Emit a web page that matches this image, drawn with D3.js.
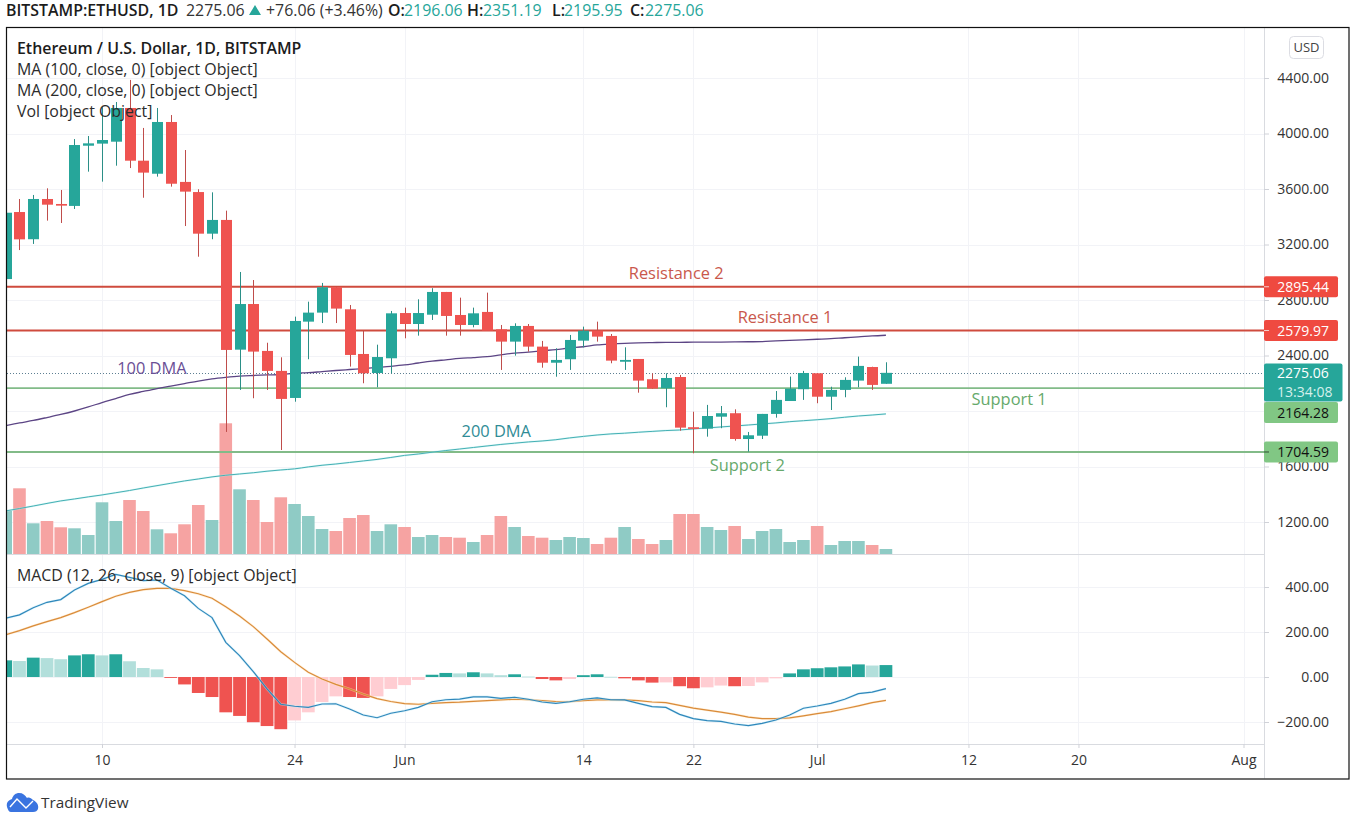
<!DOCTYPE html>
<html><head><meta charset="utf-8">
<script src="https://cdn.jsdelivr.net/npm/d3@7/dist/d3.min.js"></script>
<style>html,body{margin:0;padding:0;background:#fff}svg{display:block}text{font-family:"Open Sans",sans-serif}</style>
</head><body><svg id="c" width="1358" height="821"></svg>
<script>
const opens  = [2951,3434,3238,3528,3492,3478,3912,3927,3941,4184,3804,3710,4083,3651,3578,3278,3377,2442,2771,2433,2289,2094,2644,2709,2892,2733,2411,2274,2380,2706,2627,2694,2858,2692,2620,2714,2589,2500,2613,2464,2348,2373,2507,2579,2541,2355,2375,2229,2164,2245,1883,1873,1959,1984,1798,1822,1979,2072,2157,2272,2103,2152,2219,2317,2196.06];
const highs  = [3456,3528,3557,3605,3593,3960,3982,4191,4227,4386,4040,4184,4133,3881,3598,3576,3444,3002,2944,2492,2387,2680,2788,2923,2894,2764,2577,2478,2721,2745,2805,2885,2858,2817,2745,2853,2620,2632,2627,2505,2452,2548,2608,2644,2555,2459,2375,2272,2272,2260,1995,2044,2036,2012,1849,1979,2144,2248,2289,2272,2175,2243,2392,2319,2351.19];
const lows   = [2951,3160,3204,3372,3355,3456,3725,3653,3768,3751,3537,3689,3617,3333,3112,3238,1849,2152,2092,2152,1719,2067,2373,2634,2634,2320,2200,2171,2272,2524,2543,2656,2543,2543,2603,2577,2296,2399,2428,2312,2247,2296,2459,2500,2344,2296,2132,2159,2027,1858,1695,1815,1876,1786,1707,1798,1952,2072,2080,2056,2007,2099,2171,2152,2195.95];
const closes = [3429,3237,3528,3487,3480,3917,3929,3953,4184,3804,3718,4083,3638,3581,3278,3377,2440,2771,2428,2289,2087,2649,2709,2892,2738,2404,2272,2389,2704,2627,2706,2858,2685,2620,2704,2579,2500,2613,2464,2348,2368,2512,2579,2536,2363,2368,2219,2161,2238,1880,1871,1964,1984,1798,1825,1979,2080,2161,2274,2103,2152,2224,2325,2188,2275.06];
const volumes = [43.3,65.7,30.7,33,26.7,25.7,19,51.7,33,54,43,24.7,20.7,29.7,49,34,130.7,64.7,54,32,56.7,50,38,25,23,36,39,23,29.7,27,17,19,17,16.3,12,19,38,27,18,16.3,14,17,16,10,16.3,27,15,10,14,40,40,27,24,28,15,23,25,12,14,28,9,13,13,9,5];
const ma100 = [1894,1914,1932,1953,1975,2000,2029,2061,2090,2119,2141,2162,2180,2198,2216,2231,2242,2251,2256,2260,2263,2272,2276,2284,2292,2299,2306,2314,2322,2332,2346,2359,2369,2379,2385,2392,2405,2417,2424,2434,2443,2454,2463,2476,2483,2488,2491,2493,2495,2495,2496,2496,2497,2498,2499,2500,2505,2509,2513,2517,2521,2528,2534,2541,2546];
const ma200 = [1280,1297,1315,1334,1352,1366,1381,1395,1411,1427,1445,1462,1479,1496,1510,1525,1537,1546,1555,1566,1575,1583,1597,1609,1618,1629,1640,1651,1665,1680,1690,1703,1715,1726,1737,1748,1759,1768,1777,1784,1793,1806,1817,1827,1835,1840,1847,1853,1859,1863,1871,1878,1885,1892,1899,1907,1914,1923,1930,1937,1945,1955,1964,1971,1979];
const macdLine = [261,276,308,332,344,387,416,434,456,443,428,431,394,361,305,264,154,95,24,-53,-121,-130,-135,-120,-119,-142,-169,-181,-161,-150,-135,-110,-101,-98,-88,-88,-95,-90,-99,-111,-117,-110,-99,-93,-101,-102,-117,-132,-135,-166,-185,-194,-197,-209,-216,-206,-191,-169,-139,-129,-117,-99,-74,-67,-52];
const signalLine = [188,206,227,246,264,286,310,335,359,376,388,394,394,384,370,350,312,271,224,169,112,65,21,-9,-33,-53,-76,-96,-109,-118,-121,-117,-114,-112,-108,-105,-102,-99,-101,-105,-109,-110,-105,-102,-102,-102,-105,-111,-114,-126,-138,-147,-156,-166,-178,-185,-185,-182,-173,-163,-154,-141,-128,-114,-104];
const histogram = [74,71,86,84,79,96,101,96,101,70,40,34,-4,-33,-71,-89,-157,-173,-201,-218,-232,-193,-157,-111,-86,-89,-93,-86,-53,-36,-13,10,18,16,21,16,8,12,2,-9,-15,-9,8,12,1,-6,-15,-25,-24,-41,-50,-46,-38,-41,-40,-24,-6,16,34,39,43,47,56,51,53];
const priceTicks = [4400,4000,3600,3200,2800,2400,2000,1600,1200];
const macdTicks = [400,200,0,-200];
const timeTickDates = ["2021-05-10","2021-05-24","2021-06-01","2021-06-14","2021-06-22","2021-07-01","2021-07-12","2021-07-20","2021-08-01"];
const timeTickLabels = ["10","24","Jun","14","22","Jul","12","20","Aug"];
const levelPrices = [2895.44,2579.97,2164.28,1704.59];
const levelKinds = ["r","r","g","g"];
const annTexts = ["Resistance 2","Resistance 1","Support 1","Support 2","100 DMA","200 DMA"];
const annDays = [41.75,49.7,65.96,46.95,3.64,28.7];
const annPrices = [2995,2678,2087,1618,2317,1856];
const annKinds = ["r","r","g","g","p","t"];

const TEAL="#26a69a",RED="#ef5350",LINE_R="#cf4b3e",LINE_G="#82bb88",BOX_G="#81c784";
const firstDay=new Date(Date.UTC(2021,4,3));
const dates=closes.map((_,i)=>d3.utcDay.offset(firstDay,i));
const anchorDay=new Date(Date.UTC(2021,4,10));
const L=7,R=1264,T=28,VB=554,MB=744,B=778.5;
const x=d3.scaleUtc().domain([anchorDay,new Date(Date.UTC(2021,7,1))]).range([102,1243.5]);
const y=d3.scaleLinear().domain([4400,1200]).range([78,522]);
const yVol=d3.scaleLinear().domain([0,130.7]).range([VB,423.3]);
const yM=d3.scaleLinear().domain([400,-200]).range([587,722]);
const svg=d3.select("#c");
svg.append("rect").attr("width",1358).attr("height",821).attr("fill","#fff");
const defs=svg.append("defs");
defs.append("clipPath").attr("id","plot").append("rect").attr("x",L).attr("y",T).attr("width",R-L).attr("height",VB-T);
defs.append("clipPath").attr("id","mp").append("rect").attr("x",L).attr("y",VB).attr("width",R-L).attr("height",MB-VB);
const tickD=timeTickDates.map(d=>new Date(d+"T00:00:00Z"));
const grid=svg.append("g").attr("stroke","#f2f3f7").attr("stroke-width",1);
tickD.forEach(d=>{grid.append("line").attr("x1",Math.round(x(d))+.5).attr("x2",Math.round(x(d))+.5).attr("y1",T).attr("y2",MB);});
priceTicks.forEach(p=>{grid.append("line").attr("x1",L).attr("x2",R).attr("y1",Math.round(y(p))+.5).attr("y2",Math.round(y(p))+.5);});
macdTicks.forEach(p=>{grid.append("line").attr("x1",L).attr("x2",R).attr("y1",Math.round(yM(p))+.5).attr("y2",Math.round(yM(p))+.5);});

const pricePane=svg.append("g").attr("clip-path","url(#plot)");
const up=closes.map((c,i)=>c>=opens[i]);
pricePane.append("g").selectAll("rect").data(volumes).join("rect")
 .attr("x",(d,i)=>x(dates[i])-6.3).attr("width",12.6)
 .attr("y",d=>yVol(d)).attr("height",d=>VB-yVol(d))
 .attr("fill",(d,i)=>up[i]?"#8fcbc5":"#f6a3a2");
pricePane.append("g").selectAll("line").data(levelPrices).join("line")
 .attr("x1",L).attr("x2",R).attr("y1",d=>y(d)).attr("y2",d=>y(d))
 .attr("stroke",(d,i)=>levelKinds[i]=="r"?LINE_R:LINE_G).attr("stroke-width",(d,i)=>levelKinds[i]=="r"?2:1.8);
pricePane.append("line").attr("x1",L).attr("x2",R).attr("y1",Math.round(y(closes[64]))+.5).attr("y2",Math.round(y(closes[64]))+.5)
 .attr("stroke","#5d7f92").attr("stroke-width",1).attr("stroke-dasharray","1 2");
const ln=(sc)=>d3.line().x((d,i)=>x(dates[i])).y(d=>sc(d));
const lnS=(sc)=>ln(sc).curve(d3.curveMonotoneX);
pricePane.append("path").attr("d",lnS(y)(ma100)).attr("fill","none").attr("stroke","#5c4585").attr("stroke-width",1.3);
pricePane.append("path").attr("d",lnS(y)(ma200)).attr("fill","none").attr("stroke","#b9f0f0").attr("stroke-width",2).attr("opacity",.5);
pricePane.append("path").attr("d",lnS(y)(ma200)).attr("fill","none").attr("stroke","#45b0b4").attr("stroke-width",1);
const cg=pricePane.append("g");
cg.selectAll("line").data(closes).join("line")
 .attr("x1",(d,i)=>Math.round(x(dates[i]))+.5).attr("x2",(d,i)=>Math.round(x(dates[i]))+.5)
 .attr("y1",(d,i)=>y(highs[i])).attr("y2",(d,i)=>y(lows[i]))
 .attr("stroke",(d,i)=>up[i]?"#2b8f87":"#bf4d4b").attr("stroke-width",1);
cg.selectAll("rect").data(closes).join("rect")
 .attr("x",(d,i)=>Math.round(x(dates[i]))-5).attr("width",11)
 .attr("y",(d,i)=>Math.min(y(opens[i]),y(closes[i])))
 .attr("height",(d,i)=>Math.max(1.5,Math.abs(y(opens[i])-y(closes[i]))))
 .attr("fill",(d,i)=>up[i]?TEAL:RED);
const mp=svg.append("g").attr("clip-path","url(#mp)");
const hCol=(d,i)=>{const p=i?histogram[i-1]:-Infinity;return d>=0?(d>=p?TEAL:"#b2dfdb"):(d<p?RED:"#ffcdd2");};
mp.append("g").selectAll("rect").data(histogram).join("rect")
 .attr("x",(d,i)=>x(dates[i])-6.4).attr("width",12.8)
 .attr("y",d=>Math.min(yM(d),yM(0))).attr("height",d=>Math.max(.8,Math.abs(yM(d)-yM(0))))
 .attr("fill",hCol);
mp.append("path").attr("d",ln(yM)(signalLine)).attr("fill","none").attr("stroke","#ffe0b2").attr("stroke-width",2.4).attr("opacity",.5);
mp.append("path").attr("d",ln(yM)(signalLine)).attr("fill","none").attr("stroke","#d98b3a").attr("stroke-width",1.2);
mp.append("path").attr("d",ln(yM)(macdLine)).attr("fill","none").attr("stroke","#bfeaf5").attr("stroke-width",2.4).attr("opacity",.5);
mp.append("path").attr("d",ln(yM)(macdLine)).attr("fill","none").attr("stroke","#2f87bb").attr("stroke-width",1.2);
const sep=svg.append("g").attr("stroke","#d9dbe0").attr("stroke-width",1);
sep.append("line").attr("x1",L).attr("x2",R+.5).attr("y1",VB+.5).attr("y2",VB+.5);
sep.append("line").attr("x1",L).attr("x2",R+.5).attr("y1",MB+.5).attr("y2",MB+.5);
sep.append("line").attr("x1",R+.5).attr("x2",R+.5).attr("y1",T).attr("y2",B);
function styleAxis(g){g.select(".domain").remove();g.selectAll("line").attr("stroke","#d0d2d8");g.selectAll("text").attr("fill","#333").style("font-size","14px").style("font-family",'"Open Sans",sans-serif');}
svg.append("g").attr("transform",`translate(${R},0)`)
 .call(d3.axisRight(y).tickValues(priceTicks).tickSize(5).tickPadding(8).tickFormat(d3.format(".2f")))
 .call(styleAxis).selectAll("text").attr("text-anchor","end").attr("x",65);
svg.append("g").attr("transform",`translate(${R},0)`)
 .call(d3.axisRight(yM).tickValues(macdTicks).tickSize(5).tickPadding(8).tickFormat(d3.format(".2f")))
 .call(styleAxis).selectAll("text").attr("text-anchor","end").attr("x",65);
svg.append("g").attr("transform",`translate(0,${MB})`)
 .call(d3.axisBottom(x).tickValues(tickD).tickSize(4).tickPadding(7).tickFormat((d,i)=>timeTickLabels[i]))
 .call(styleAxis);
function box(price,yc,bg,fg){
 const g=svg.append("g");
 g.append("rect").attr("x",R).attr("y",yc-10.5).attr("width",74).attr("height",21).attr("rx",2).attr("fill",bg);
 g.append("text").attr("x",R+65).attr("y",yc+5).attr("text-anchor","end").attr("fill",fg).style("font-size","14px").text(price.toFixed(2));
 g.append("line").attr("x1",R).attr("x2",R+5).attr("y1",y(price)).attr("y2",y(price)).attr("stroke",fg=="#fff"?"#f5d0cc":"#2d4a30");
}
box(levelPrices[0],y(levelPrices[0]),"#ef4a40","#fff");
box(levelPrices[1],y(levelPrices[1]),"#ef4a40","#fff");
box(levelPrices[2],412.5,BOX_G,"#111");
box(levelPrices[3],y(levelPrices[3]),BOX_G,"#111");
svg.append("line").attr("x1",R).attr("x2",R+5).attr("y1",y(levelPrices[2])).attr("y2",y(levelPrices[2])).attr("stroke","#eee");
svg.append("rect").attr("x",R).attr("y",363.5).attr("width",78.5).attr("height",38).attr("rx",2).attr("fill",TEAL);
svg.append("text").attr("x",R+13).attr("y",378).attr("fill","#fff").style("font-size","14px").text(closes[64].toFixed(2));
svg.append("text").attr("x",R+13).attr("y",397).attr("fill","#d5f0ec").style("font-size","14px").text("13:34:08");
svg.append("rect").attr("x",1289.5).attr("y",36.5).attr("width",34).attr("height",22).attr("rx",4).attr("fill","#fff").attr("stroke","#dcdde3");
svg.append("text").attr("x",1306.5).attr("y",52).attr("text-anchor","middle").attr("fill","#444").style("font-size","13px").text("USD");
const annCol={r:"#c9584c",g:"#66a96b",p:"#6b4f96",t:"#2f8c96"};
svg.append("g").selectAll("text").data(annTexts).join("text")
 .attr("x",(d,i)=>x(d3.utcHour.offset(anchorDay,annDays[i]*24)))
 .attr("y",(d,i)=>y(annPrices[i])+6.5)
 .attr("text-anchor","middle").attr("fill",(d,i)=>annCol[annKinds[i]])
 .style("font-size","16.4px").text(d=>d);
const legendTexts=["MA (100, close, 0) [object Object]","MA (200, close, 0) [object Object]","Vol [object Object]"];
svg.append("text").attr("x",17).attr("y",53.5).attr("fill","#1c1c1c").style("font-size","15.9px").style("font-weight",600).text("Ethereum / U.S. Dollar, 1D, BITSTAMP");
svg.append("g").selectAll("text").data(legendTexts).join("text").attr("x",17).attr("y",(d,i)=>74.5+21*i).attr("fill","#2b2b2b").style("font-size","15.9px").text(d=>d);
svg.append("text").attr("x",17).attr("y",580.5).attr("fill","#2b2b2b").style("font-size","15.9px").text("MACD (12, 26, close, 9) [object Object]");
const head=svg.append("g").style("font-size","15.9px");
const ht=(xx,t,c,w)=>head.append("text").attr("x",xx).attr("y",15.5).attr("fill",c).style("font-weight",w||400).text(t);
ht(6,"BITSTAMP:ETHUSD, 1D","#1c1c1c",600);
ht(186,"2275.06","#333");
head.append("path").attr("d","M249 15L255 5L261 15Z").attr("fill",TEAL);
ht(266,"+76.06 (+3.46%)","#333");
ht(388,"O:","#1c1c1c",600);ht(404,"2196.06",TEAL);
ht(467,"H:","#1c1c1c",600);ht(483,"2351.19",TEAL);
ht(552,"L:","#1c1c1c",600);ht(564,"2195.95",TEAL);
ht(630,"C:","#1c1c1c",600);ht(645,"2275.06",TEAL);
svg.append("rect").attr("x",6.5).attr("y",27.5).attr("width",1342.5).attr("height",751.5).attr("fill","none").attr("stroke","#111").attr("stroke-width",1.2);
const lg=svg.append("g");
lg.append("path").attr("d","M7 807C6 802 9 800 12 799C13 795 16 793 19 793C23 793 25 795 27 798C29 797 31 798 33 800C37 802 39 805 38 809C37 811 36 812 33 812L11 812C9 812 8 810 7 807Z").attr("fill","#3a74e0");
lg.append("path").attr("d","M10 807L17 799L26 808L33 801").attr("fill","none").attr("stroke","#fff").attr("stroke-width",1.4);
lg.append("text").attr("x",41).attr("y",807.5).attr("fill","#333").style("font-size","15.3px").text("TradingView");
</script></body></html>
